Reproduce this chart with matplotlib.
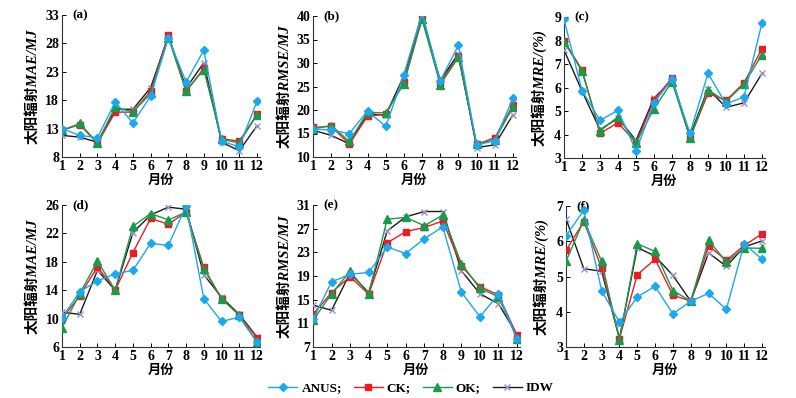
import matplotlib
matplotlib.use('Agg')
import matplotlib.pyplot as plt

plt.rcParams['font.family'] = ['Liberation Serif', 'Noto Sans CJK SC']
plt.rcParams['font.weight'] = 'bold'

months = list(range(1, 13))
methods = ['ANUS', 'CK', 'OK', 'IDW']

# (a) MAE 1
a_anus = [13.0, 11.8, 11.4, 17.7, 14.0, 18.7, 29.0, 21.2, 26.8, 10.8, 9.8, 17.8]
a_ck = [12.7, 13.7, 10.4, 15.9, 15.9, 19.6, 29.5, 19.6, 23.6, 11.2, 10.8, 15.5]
a_ok = [12.7, 13.9, 10.5, 16.8, 15.9, 19.2, 29.0, 19.6, 23.4, 11.1, 10.5, 15.4]
a_idw = [11.8, 11.5, 10.6, 16.4, 16.4, 20.2, 29.3, 20.1, 24.6, 10.6, 9.1, 13.5]

# (b) RMSE 1
b_anus = [16.0, 15.7, 15.0, 19.8, 16.5, 27.5, 40.7, 26.2, 33.8, 12.5, 13.5, 22.5]
b_ck = [16.3, 16.5, 12.8, 18.7, 19.1, 26.0, 39.9, 25.8, 31.5, 12.7, 14.1, 21.0]
b_ok = [16.0, 16.7, 13.3, 19.5, 19.4, 25.6, 39.3, 25.4, 31.2, 12.8, 13.6, 20.7]
b_idw = [15.7, 14.6, 12.8, 19.2, 18.9, 27.3, 39.5, 26.3, 32.0, 12.0, 12.6, 19.0]

# (c) MRE 1
c_anus = [8.9, 5.87, 4.6, 5.03, 3.3, 5.35, 6.35, 4.05, 6.6, 5.3, 5.6, 8.75]
c_ck = [8.0, 6.75, 4.05, 4.5, 3.65, 5.45, 6.42, 3.85, 5.75, 5.45, 6.2, 7.65]
c_ok = [7.95, 6.7, 4.15, 4.75, 3.65, 5.1, 6.25, 3.85, 5.9, 5.4, 6.15, 7.4]
c_idw = [7.6, 5.85, 4.2, 4.7, 3.75, 5.55, 6.3, 3.95, 5.95, 5.15, 5.35, 6.6]

# (d) MAE 2
d_anus = [10.1, 13.8, 15.3, 16.3, 16.8, 20.6, 20.3, 25.9, 12.8, 9.6, 10.2, 6.7]
d_ck = [10.0, 13.2, 17.3, 14.0, 19.3, 24.1, 23.3, 25.0, 17.2, 12.8, 10.5, 7.3]
d_ok = [8.7, 13.5, 18.1, 14.0, 23.0, 24.8, 23.9, 25.0, 17.0, 12.8, 10.5, 6.7]
d_idw = [10.9, 10.6, 16.8, 14.0, 22.1, 24.6, 25.7, 25.4, 16.2, 13.0, 10.6, 7.4]

# (e) RMSE 2
e_anus = [11.7, 18.0, 19.3, 19.6, 23.9, 22.8, 25.3, 27.3, 16.3, 12.1, 15.9, 8.4]
e_ck = [12.5, 16.2, 18.9, 15.9, 24.6, 26.5, 27.2, 28.3, 20.7, 17.2, 15.8, 9.0]
e_ok = [11.5, 16.0, 19.8, 15.9, 28.6, 28.9, 27.5, 29.3, 21.1, 16.9, 15.5, 8.4]
e_idw = [14.1, 13.2, 19.5, 16.2, 26.6, 29.0, 29.9, 29.9, 19.9, 16.0, 14.3, 9.1]

# (f) MRE 2
f_anus = [6.15, 6.88, 4.6, 3.7, 4.42, 4.72, 3.94, 4.3, 4.52, 4.07, 5.93, 5.49]
f_ck = [5.74, 6.56, 5.24, 3.24, 5.05, 5.49, 4.47, 4.3, 5.87, 5.46, 5.88, 6.21]
f_ok = [5.43, 6.6, 5.43, 3.21, 5.93, 5.71, 4.6, 4.3, 6.03, 5.41, 5.81, 5.8]
f_idw = [6.64, 5.22, 5.15, 3.24, 5.82, 5.58, 5.03, 4.3, 5.67, 5.29, 5.84, 6.01]

panels = [
    ('(a)', [a_anus, a_ck, a_ok, a_idw], (8, 33), range(8, 34, 5), 'MAE/MJ'),
    ('(b)', [b_anus, b_ck, b_ok, b_idw], (10, 40), range(10, 41, 5), 'RMSE/MJ'),
    ('(c)', [c_anus, c_ck, c_ok, c_idw], (3, 9), range(3, 10), 'MRE/(%)'),
    ('(d)', [d_anus, d_ck, d_ok, d_idw], (6, 26), range(6, 27, 4), 'MAE/MJ'),
    ('(e)', [e_anus, e_ck, e_ok, e_idw], (7, 31), range(7, 32, 4), 'RMSE/MJ'),
    ('(f)', [f_anus, f_ck, f_ok, f_idw], (3, 7), range(3, 8), 'MRE/(%)'),
]

# axes boxes in pixels: left, x of month 12, top, bottom
boxes = [(62, 257, 15, 157), (313, 513, 16, 157), (564, 762, 17, 158),
         (62, 257, 205, 347), (313, 517, 205, 347), (566, 762, 206, 347)]
ylab_off = [-0.15, -0.14, -0.125, -0.15, -0.14, -0.125]

styles = {
    'ANUS': dict(color='#1BA8EC', marker='D', ms=4.5, mfc='#1BA8EC', mec='#1BA8EC', zorder=6),
    'CK': dict(color='#EC1C24', marker='s', ms=4.5, mfc='#EC1C24', mec='#EC1C24', zorder=4),
    'OK': dict(color='#1A9A4A', marker='^', ms=5.5, mfc='#1A9A4A', mec='#1A9A4A', zorder=5),
    'IDW': dict(color='#1a1a1a', marker='x', ms=5, mfc='none', mec='#9A90CC', mew=1.0, zorder=3),
}

W, H = 796, 398
fig = plt.figure(figsize=(W / 100, H / 100), dpi=100)

handles = []
for (lab, series, ylim, yticks, ylabel), (l, r12, t, b), yo in zip(panels, boxes, ylab_off):
    step = (r12 - l) / 11
    width = step * 11.15
    ax = fig.add_axes([l / W, 1 - b / H, width / W, (b - t) / H])
    hs = []
    for name, vals in zip(methods, series):
        h, = ax.plot(months, vals, lw=1.0, label=name, **styles[name])
        hs.append(h)
    handles = hs
    ax.set_xlim(1, 12.15)
    ax.set_ylim(*ylim)
    ax.set_xticks(months)
    ax.set_yticks(list(yticks))
    ax.spines['top'].set_visible(False)
    ax.spines['right'].set_visible(False)
    for s in ['left', 'bottom']:
        ax.spines[s].set_linewidth(0.8)
        ax.spines[s].set_color('#333333')
    ax.tick_params(direction='in', length=3, width=0.7, labelsize=10, pad=2)
    for tl in ax.get_xticklabels() + ax.get_yticklabels():
        tl.set_fontweight('bold')
    ax.set_xlabel('月份', fontsize=9.5, fontweight='bold', labelpad=1.5)
    ax.text(yo, 0.5, '太阳辐射' + ylabel, transform=ax.transAxes, rotation=90,
            ha='center', va='center', fontsize=10.5, fontweight='bold', style='italic')
    ax.text(0.05, 1.0, lab, transform=ax.transAxes, ha='left', va='center',
            fontsize=9.5, fontweight='bold')

fig.legend(handles, ['ANUS;', 'CK;', 'OK;', 'IDW'], loc='center', ncol=4,
           bbox_to_anchor=(411 / W, 1 - 388 / H), frameon=False, fontsize=9.5,
           handlelength=2.2, handletextpad=0.3, columnspacing=0.9)

fig.savefig('out.png', dpi=100)
